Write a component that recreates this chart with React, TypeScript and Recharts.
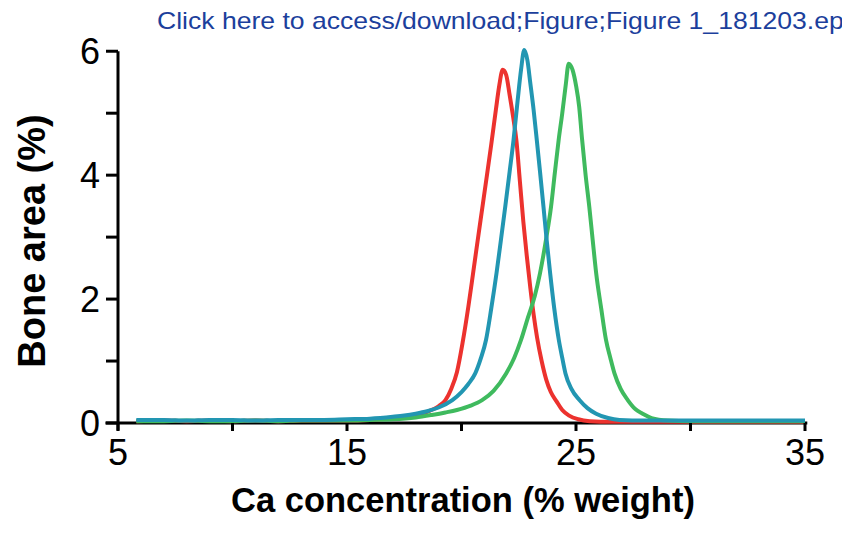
import { LineChart, Line, XAxis, YAxis, ReferenceLine } from 'recharts';

// MARK: - Data

const xTicks = [5, 10, 15, 20, 25, 30, 35];
const xTickLabels = ['5', '', '15', '', '25', '', '35'];
const yTicks = [0, 1, 2, 3, 4, 5, 6];
const yTickLabels = ['0', '', '2', '', '4', '', '6'];

const redX = [5.8, 7, 8, 9, 10, 11, 12, 13, 14, 15, 16, 17, 17.5, 18, 18.5, 19, 19.3, 19.55, 19.8, 20.05, 20.3, 20.5, 20.7, 20.9, 21.1, 21.3, 21.5, 21.65, 21.8, 21.95, 22.1, 22.25, 22.4, 22.55, 22.7, 22.85, 23.0, 23.15, 23.3, 23.5, 23.7, 23.9, 24.15, 24.4, 24.7, 25.1, 25.6, 26.5, 28, 30, 32, 34, 35];
const redY = [0.03, 0.04, 0.03, 0.04, 0.03, 0.04, 0.03, 0.04, 0.04, 0.04, 0.05, 0.08, 0.1, 0.13, 0.18, 0.27, 0.37, 0.55, 0.82, 1.3, 1.88, 2.4, 2.93, 3.45, 3.97, 4.5, 5.05, 5.45, 5.7, 5.62, 5.3, 4.95, 4.55, 3.9, 3.25, 2.7, 2.2, 1.75, 1.38, 1.0, 0.7, 0.5, 0.35, 0.21, 0.12, 0.06, 0.03, 0.02, 0.02, 0.02, 0.02, 0.02, 0.02];

const greenX = [5.8, 7, 8, 9, 10, 11, 12, 13, 14, 15, 16, 17, 18, 18.7, 19.3, 19.8, 20.4, 20.9, 21.4, 21.95, 22.3, 22.6, 22.9, 23.2, 23.43, 23.7, 23.91, 24.08, 24.24, 24.4, 24.55, 24.68, 24.85, 25.0, 25.14, 25.26, 25.42, 25.58, 25.73, 25.88, 26.1, 26.31, 26.5, 26.68, 26.95, 27.26, 27.6, 27.91, 28.3, 29, 30, 31, 33, 35];
const greenY = [0.03, 0.03, 0.04, 0.03, 0.03, 0.04, 0.03, 0.04, 0.04, 0.04, 0.05, 0.06, 0.09, 0.13, 0.17, 0.21, 0.28, 0.37, 0.52, 0.8, 1.05, 1.34, 1.7, 2.05, 2.42, 2.98, 3.49, 4.05, 4.56, 5.0, 5.45, 5.8, 5.7, 5.45, 5.1, 4.6, 4.0, 3.49, 2.95, 2.42, 1.85, 1.34, 1.05, 0.8, 0.55, 0.37, 0.22, 0.15, 0.08, 0.04, 0.03, 0.03, 0.03, 0.03];

const blueX = [5.8, 7, 8, 9, 10, 11, 12, 13, 14, 15, 16, 17, 17.5, 18, 18.5, 19, 19.6, 20.0, 20.3, 20.6, 20.85, 21.07, 21.3, 21.53, 21.72, 21.91, 22.1, 22.27, 22.45, 22.6, 22.74, 22.88, 23.0, 23.15, 23.29, 23.43, 23.58, 23.72, 23.87, 24.05, 24.25, 24.4, 24.54, 24.8, 25.15, 25.5, 25.88, 26.4, 26.9, 28, 30, 32, 34, 35];
const blueY = [0.05, 0.05, 0.04, 0.05, 0.05, 0.04, 0.05, 0.05, 0.05, 0.06, 0.07, 0.1, 0.12, 0.15, 0.19, 0.25, 0.37, 0.5, 0.63, 0.8, 1.05, 1.34, 1.85, 2.42, 2.95, 3.49, 4.05, 4.56, 5.2, 5.7, 6.02, 5.85, 5.5, 5.05, 4.56, 4.05, 3.49, 2.95, 2.42, 1.85, 1.34, 1.05, 0.8, 0.55, 0.37, 0.24, 0.15, 0.08, 0.05, 0.04, 0.04, 0.04, 0.04, 0.04];

const toPoints = (xs: number[], ys: number[]) => xs.map((x, i) => ({ x, y: ys[i] }));

const redData = toPoints(redX, redY);
const greenData = toPoints(greenX, greenY);
const blueData = toPoints(blueX, blueY);

const FONT = '"Liberation Sans", Arial, Helvetica, sans-serif';

// MARK: - Custom ticks (labels only on every other tick)

const XTick = ({ x, y, payload }: any) => {
    const label = xTickLabels[xTicks.indexOf(payload.value)];
    return (
        <text x={x} y={y} dy="0.71em" textAnchor="middle" fontSize={36} fontFamily={FONT} fill="#000">
            {label}
        </text>
    );
};

const YTick = ({ x, y, payload }: any) => {
    const label = yTickLabels[yTicks.indexOf(payload.value)];
    return (
        <text x={x} y={y} dy="0.355em" textAnchor="end" fontSize={36} fontFamily={FONT} fill="#000">
            {label}
        </text>
    );
};

export default function App() {
    return (
        <div style={{ position: 'absolute', left: 0, top: 0, width: 842, height: 539, background: '#fff', overflow: 'hidden' }}>
            <LineChart width={842} height={539} margin={{ top: 50, right: 37, left: 58, bottom: 56 }}>
                <XAxis
                    dataKey="x"
                    type="number"
                    domain={[5, 35]}
                    ticks={xTicks}
                    interval={0}
                    allowDataOverflow
                    height={60}
                    axisLine={false}
                    tickSize={8}
                    tickMargin={8}
                    tickLine={{ stroke: '#000', strokeWidth: 3 }}
                    tick={XTick}
                />
                <YAxis
                    type="number"
                    domain={[0, 6]}
                    ticks={yTicks}
                    interval={0}
                    width={60}
                    axisLine={false}
                    tickSize={12}
                    tickMargin={6}
                    tickLine={{ stroke: '#000', strokeWidth: 3 }}
                    tick={YTick}
                />

                {/* Axis lines, crossing slightly past the origin like the original */}
                <ReferenceLine segment={[{ x: 4.45, y: 0 }, { x: 35.1, y: 0 }]} stroke="#000" strokeWidth={3} ifOverflow="visible" />
                <ReferenceLine segment={[{ x: 5, y: -0.12 }, { x: 5, y: 6 }]} stroke="#000" strokeWidth={3} ifOverflow="visible" />

                <Line data={redData} dataKey="y" type="monotone" stroke="#ec322e" strokeWidth={4} dot={false} isAnimationActive={false} />
                <Line data={greenData} dataKey="y" type="monotone" stroke="#3fba5e" strokeWidth={4} dot={false} isAnimationActive={false} />
                <Line data={blueData} dataKey="y" type="monotone" stroke="#2296b2" strokeWidth={4} dot={false} isAnimationActive={false} />
            </LineChart>

            {/* Titles and the header link text */}
            <svg width={842} height={539} style={{ position: 'absolute', left: 0, top: 0, pointerEvents: 'none' }}>
                <text x={157} y={29} fontSize={24} fontFamily={FONT} fill="#1c3f9c" textLength={700} lengthAdjust="spacingAndGlyphs">
                    Click here to access/download;Figure;Figure 1_181203.eps
                </text>
                <text x={463} y={512} textAnchor="middle" fontSize={34.5} fontWeight="bold" fontFamily={FONT} fill="#000">
                    Ca concentration (% weight)
                </text>
                <text transform="translate(45,241) rotate(-90)" textAnchor="middle" fontSize={38} fontWeight="bold" fontFamily={FONT} fill="#000">
                    Bone area (%)
                </text>
            </svg>
        </div>
    );
}
